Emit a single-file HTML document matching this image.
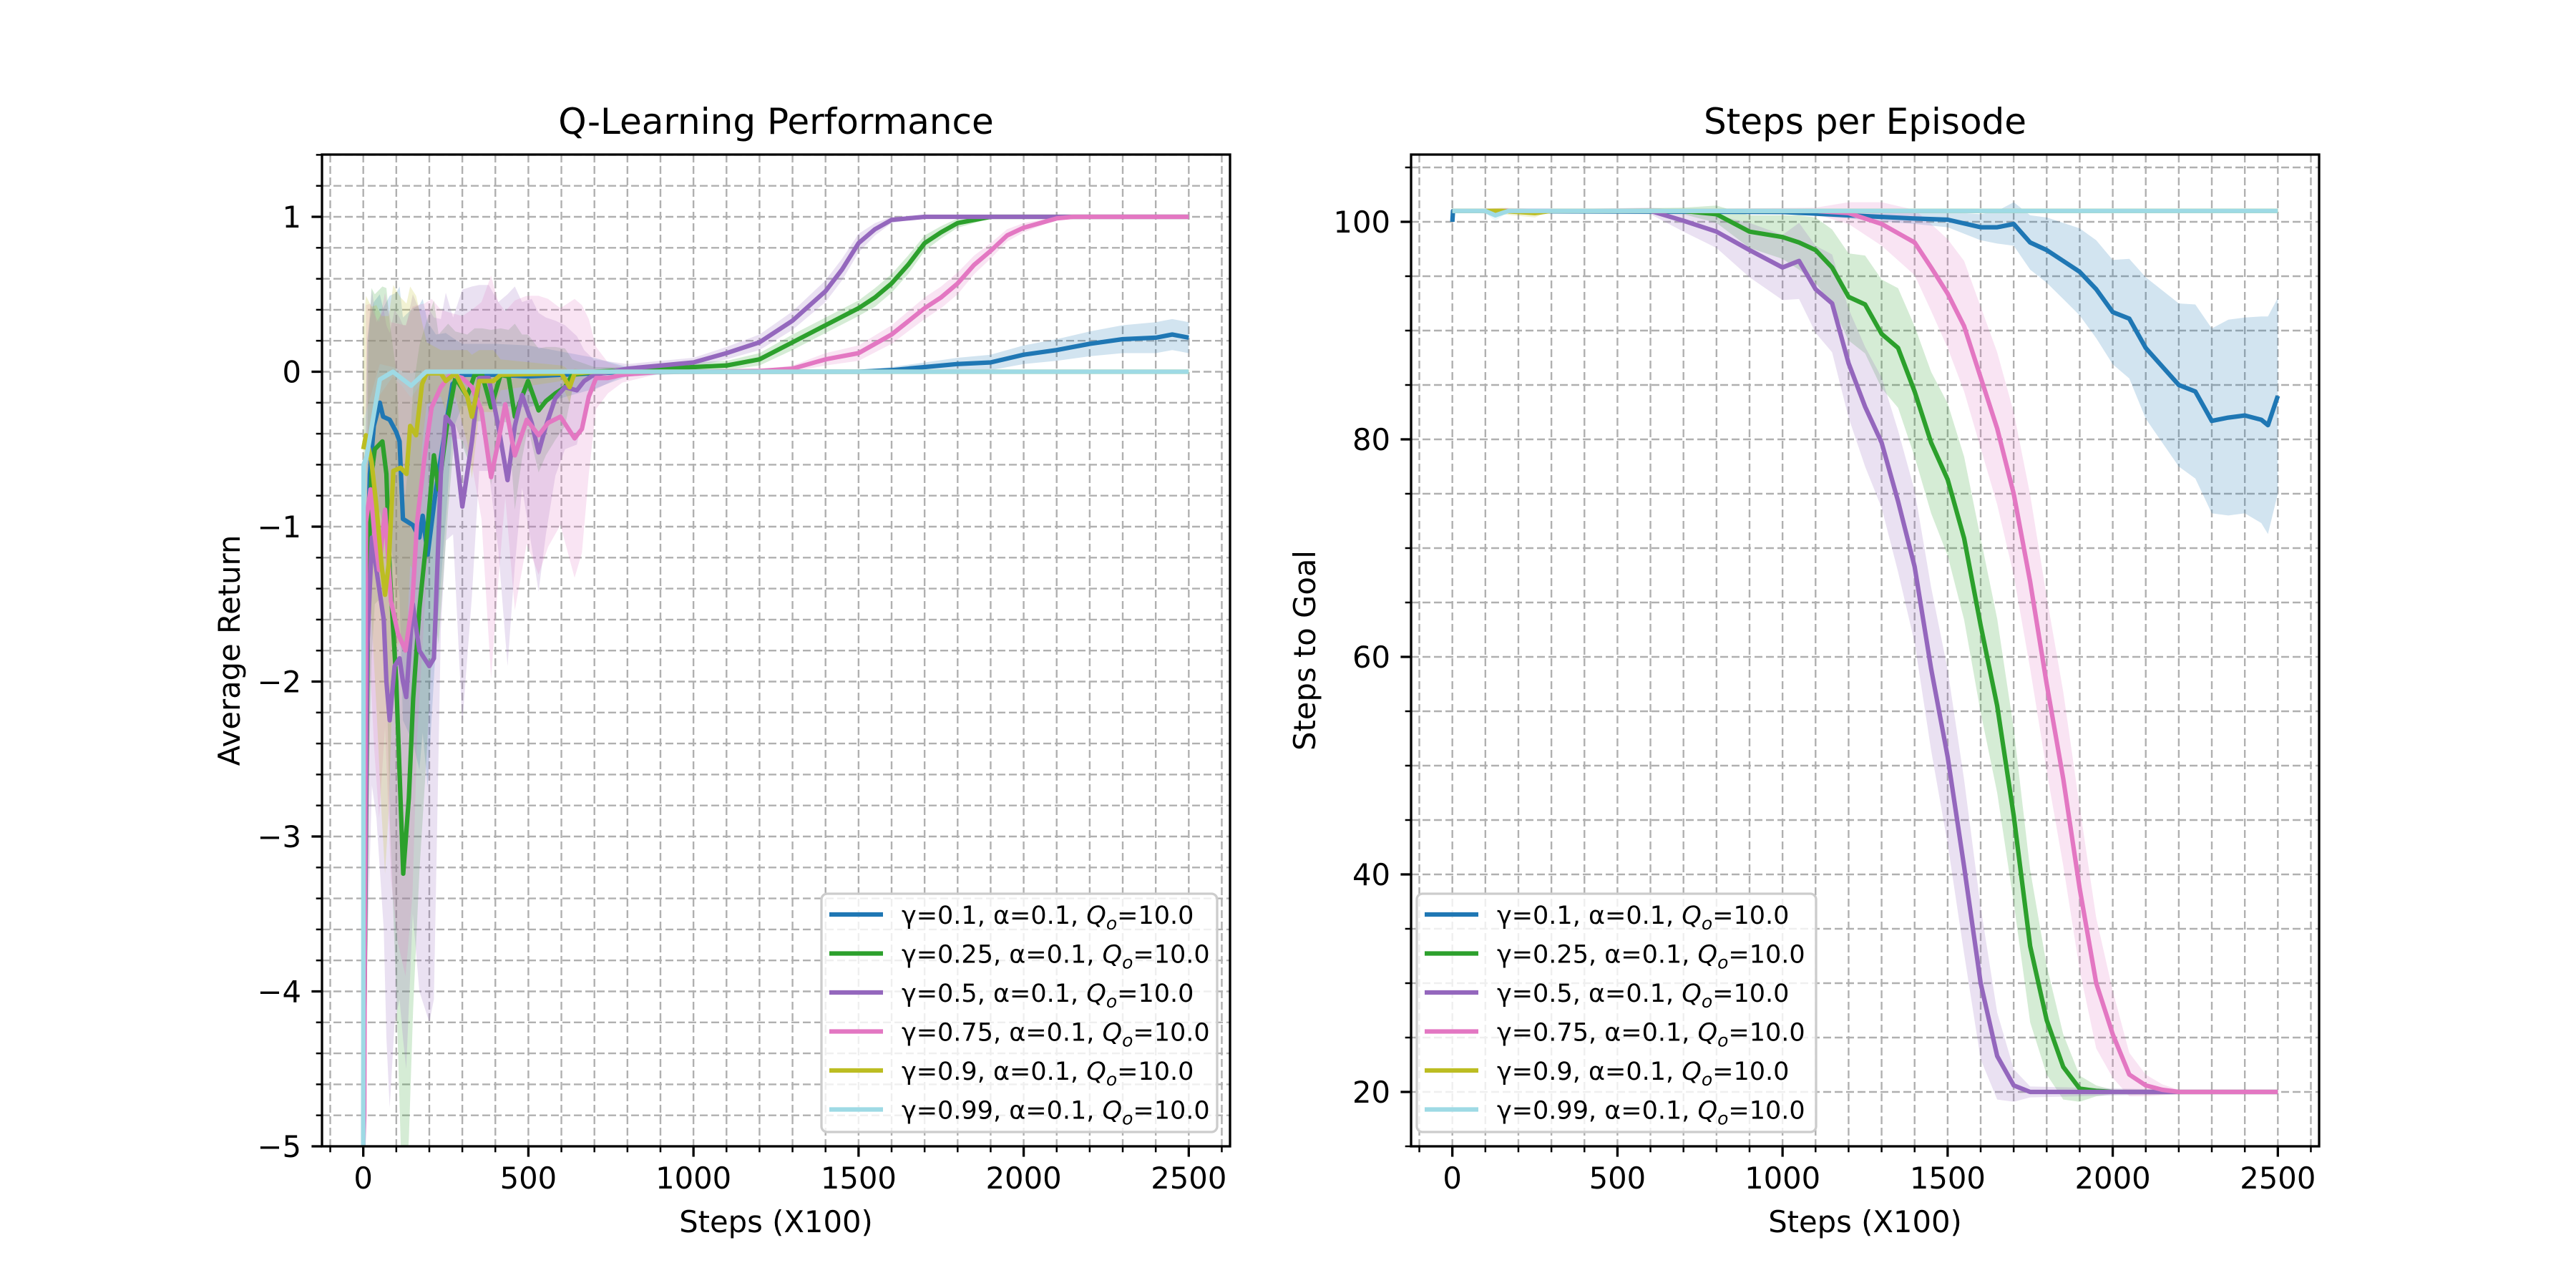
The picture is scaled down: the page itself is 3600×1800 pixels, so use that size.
<!DOCTYPE html>
<html><head><meta charset="utf-8"><style>
html,body{margin:0;padding:0;background:#fff;}
svg{display:block;font-family:"DejaVu Sans","Liberation Sans",sans-serif;}
</style></head><body>
<svg id="fig" xmlns="http://www.w3.org/2000/svg" width="3600" height="1800" viewBox="0 0 3600 1800">
<rect width="3600" height="1800" fill="#fff"/>
<defs>
<clipPath id="clipL"><rect x="450" y="216" width="1269" height="1386"/></clipPath>
<clipPath id="clipR"><rect x="1972" y="216" width="1269" height="1386"/></clipPath>
</defs>
<g id="left"></g>
<g id="right"></g>
</svg>
<script>
// ---------- Left chart data ----------
const bX=[0,5,12,20,32,50,60,80,100,110,120,150,170,180,195,220,250,270,300,400,500,600,700,800,1000,1200,1400,1500,1600,1700,1800,1900,2000,2100,2200,2300,2400,2450,2500];
const bY=[-5,-2,-1.3,-0.66,-0.35,-0.2,-0.29,-0.31,-0.39,-0.45,-0.95,-0.99,-1.07,-0.93,-1.18,-0.76,-0.35,-0.08,-0.02,-0.02,-0.03,-0.02,-0.01,0,0,0,0,0,0.01,0.03,0.05,0.06,0.11,0.14,0.18,0.21,0.22,0.24,0.22];
const bS=[0,1.5,1.5,1.0,0.8,0.7,0.7,0.8,0.9,1.0,1.3,1.4,1.5,1.4,1.5,1.0,0.6,0.3,0.2,0.2,0.2,0.15,0.1,0.03,0.01,0.01,0.01,0.01,0.02,0.03,0.04,0.05,0.06,0.07,0.08,0.09,0.1,0.1,0.1];
const gX=[0,15,25,35,58,70,80,100,121,138,151,170,192,214,228,257,279,315,337,360,387,416,440,459,481,499,531,553,582,611,633,700,800,900,1000,1100,1200,1300,1400,1500,1550,1600,1650,1700,1750,1800,1900,2500];
const gY=[-5,-1.34,-0.66,-0.5,-0.45,-0.66,-1.28,-2.0,-3.24,-2.75,-2.11,-1.53,-1.07,-0.54,-0.76,-0.29,-0.04,-0.16,-0.02,-0.02,-0.23,-0.02,-0.03,-0.29,-0.16,-0.06,-0.25,-0.19,-0.14,-0.1,-0.02,0,0.01,0.02,0.03,0.04,0.08,0.19,0.30,0.41,0.48,0.57,0.69,0.83,0.9,0.96,1.0,1.0];
const gS=[0,1.5,1.2,1.0,1.0,1.2,1.6,2.0,2.3,2.2,2.0,1.7,1.4,1.0,1.0,0.6,0.3,0.4,0.3,0.3,0.5,0.3,0.3,0.6,0.4,0.3,0.4,0.35,0.3,0.25,0.1,0.03,0.02,0.02,0.03,0.03,0.04,0.05,0.05,0.05,0.06,0.06,0.06,0.05,0.04,0.03,0.01,0];
const pX=[0,12,26,40,62,70,80,95,110,120,130,150,170,200,214,235,250,272,300,329,351,380,409,437,459,481,510,531,553,582,611,647,669,698,800,1000,1100,1200,1300,1400,1450,1500,1550,1600,1700,2500];
const pY=[-5,-1.8,-1.07,-1.28,-1.6,-2.0,-2.25,-1.9,-1.85,-2.0,-2.1,-1.5,-1.8,-1.9,-1.85,-0.66,-0.29,-0.35,-0.87,-0.45,-0.04,-0.04,-0.35,-0.7,-0.35,-0.15,-0.33,-0.52,-0.35,-0.17,-0.1,-0.12,-0.06,-0.02,0.02,0.06,0.12,0.19,0.33,0.52,0.66,0.83,0.92,0.98,1.0,1.0];
const pS=[0,2.0,1.6,1.6,2.0,2.3,2.5,2.3,2.2,2.3,2.4,2.0,2.2,2.3,2.2,1.0,0.8,0.7,1.4,1.0,0.6,0.6,0.8,1.2,0.9,0.6,0.8,0.9,0.7,0.5,0.4,0.35,0.2,0.1,0.03,0.03,0.04,0.05,0.06,0.07,0.07,0.06,0.04,0.02,0.005,0];
const kX=[0,3,8,22,33,48,66,84,105,128,149,163,185,207,235,264,300,329,358,387,409,430,459,495,531,560,597,640,662,683,705,741,784,900,1000,1200,1300,1400,1500,1600,1700,1750,1800,1850,1900,1950,2000,2100,2150,2500];
const kY=[-5,-4.8,-0.97,-0.76,-1.03,-1.28,-0.89,-1.48,-1.69,-1.8,-1.48,-0.97,-0.56,-0.23,-0.1,-0.02,-0.04,-0.1,-0.25,-0.68,-0.45,-0.21,-0.54,-0.31,-0.41,-0.33,-0.29,-0.43,-0.37,-0.16,-0.04,-0.04,-0.02,0,0,0.005,0.02,0.08,0.12,0.24,0.41,0.48,0.57,0.69,0.78,0.88,0.93,0.99,1.0,1.0];
const kS=[0,0,1.4,1.2,1.4,1.6,1.4,1.8,2.0,2.1,1.9,1.4,1.0,0.7,0.5,0.4,0.4,0.5,0.7,1.3,0.9,0.6,1.0,0.8,0.9,0.8,0.7,0.9,0.8,0.5,0.2,0.1,0.05,0.01,0.01,0.01,0.02,0.04,0.05,0.06,0.07,0.07,0.07,0.06,0.05,0.04,0.03,0.01,0.005,0];
const yX=[0,8,25,40,55,66,77,91,113,131,142,160,178,192,235,250,279,315,329,351,394,416,600,611,625,640,700,2500];
const yY=[-0.5,-0.41,-0.58,-0.87,-1.24,-1.44,-1.24,-0.64,-0.62,-0.66,-0.35,-0.41,-0.08,-0.01,-0.01,-0.06,-0.01,-0.16,-0.29,-0.06,-0.06,-0.02,-0.01,-0.05,-0.1,-0.01,0,0];
const yS=[0.8,0.9,1.0,1.3,1.6,1.8,1.6,1.2,1.1,1.1,0.9,0.9,0.4,0.2,0.15,0.2,0.15,0.3,0.4,0.2,0.2,0.1,0.05,0.08,0.1,0.03,0,0];
const cX=[0,1,10,30,50,90,120,145,170,190,2500];
const cY=[-5,-0.6,-0.55,-0.3,-0.05,0,-0.05,-0.09,-0.04,0,0];
const cS=[0,0.3,0.3,0.2,0.1,0.03,0.05,0.08,0.05,0,0];
// ---------- Right chart data ----------
const rbX=[0,2,5,10,1000,1200,1400,1500,1600,1650,1700,1750,1800,1850,1900,1950,2000,2050,2100,2150,2200,2250,2300,2350,2400,2450,2470,2500];
const rbY=[100,101,101,101,100.9,100.6,100.3,100.2,99.5,99.5,99.8,98.1,97.4,96.4,95.4,93.8,91.7,91.1,88.4,86.7,85,84.4,81.7,82,82.2,81.8,81.3,84];
const rbS=[0,0,0,0,0.1,0.3,0.5,0.7,1.2,1.5,2,2.5,3,3.5,4,4.5,4.8,5.5,6.5,7,7.5,8,8.5,9,9,9.5,10,9];
const rgX=[0,700,800,900,1000,1050,1100,1150,1200,1250,1300,1350,1400,1450,1500,1550,1600,1650,1700,1750,1800,1850,1900,1950,2000,2500];
const rgY=[101,101,100.7,99.1,98.6,98.1,97.4,95.8,93.1,92.4,89.7,88.4,84.4,79.7,76.3,70.9,62.9,55.5,45.4,33.4,26.6,22.3,20.3,20.1,20,20];
const rgS=[0,0.3,0.8,1.5,2,2.5,3,3.5,4,4.5,5,5.5,6,6.5,7,7.5,8,8,8,7,5,3,1.2,0.5,0.2,0];
const rpX=[0,600,700,800,900,1000,1050,1100,1150,1200,1250,1300,1350,1400,1450,1500,1550,1600,1650,1700,1750,2500];
const rpY=[101,101,100.1,99.1,97.4,95.8,96.4,93.8,92.5,87.0,83.0,79.7,74.3,68.3,58.9,50.8,40.7,30,23.3,20.6,20,20];
const rpS=[0,0.3,1,1.5,2.5,3,3.5,4,4.5,5,5.5,6,6.5,7,7.5,8,8,7,4,1.5,0.5,0];
const rkX=[0,1100,1200,1300,1400,1450,1500,1550,1600,1650,1700,1750,1800,1850,1900,1950,2000,2050,2100,2150,2200,2500];
const rkY=[101,101,100.8,99.8,98.1,95.8,93.4,90.4,85.7,81.0,75.0,66.9,57.5,48.8,38.7,30.0,25.3,21.6,20.6,20.2,20,20];
const rkS=[0,0.3,1,2,3,4,5,6,6.5,7,7.5,8,8,8,7.5,6,4,2,1,0.5,0.2,0];
const ryX=[0,150,250,300,2500];
const ryY=[101,101,100.8,101,101];
const ryS=[0,0.3,0.4,0,0];
const rcX=[0,100,130,150,170,2500];
const rcY=[101,101,100.6,100.8,101,101];
const rcS=[0,0.2,0.5,0.3,0,0];
// ---------- ticks / labels ----------
const xTicks=[0,500,1000,1500,2000,2500];
const lyTicks=[-5,-4,-3,-2,-1,0,1];
const ryTicks=[20,40,60,80,100];
const labels=["γ=0.1, α=0.1, ","γ=0.25, α=0.1, ","γ=0.5, α=0.1, ","γ=0.75, α=0.1, ","γ=0.9, α=0.1, ","γ=0.99, α=0.1, "];
const colors=["#1f77b4","#2ca02c","#9467bd","#e377c2","#bcbd22","#17becf"];
colors[5]="#9edae5";

const NS="http://www.w3.org/2000/svg";
function mk(parent,tag,attrs){const e=document.createElementNS(NS,tag);for(const k in attrs)e.setAttribute(k,attrs[k]);parent.appendChild(e);return e;}

function buildAxes(g,ax){
  const {x0,y0,w,h,sx,sy,yMinor,yMajor,fmt,clip,title,ylabel,series,legendX}=ax;
  // grid
  const grid=mk(g,'g',{});
  
  
  for(let v=-100;v<=2600;v+=100){const px=sx(v);mk(grid,'line',{x1:px,x2:px,y1:y0,y2:y0+h,stroke:'#b0b0b0','stroke-width':2.4,'stroke-dasharray':'11,5'});}
  yMinor.forEach(v=>{const py=sy(v);if(py<y0||py>y0+h)return;mk(grid,'line',{x1:x0,x2:x0+w,y1:py,y2:py,stroke:'#b0b0b0','stroke-width':2.4,'stroke-dasharray':'11,5'});});
  // series
  const sg=mk(g,'g',{'clip-path':'url(#'+clip+')'});
  series.forEach((s,i)=>{
    const [X,Y,S]=s;
    let up='',lo='';
    for(let j=0;j<X.length;j++){up+=(j?'L':'M')+sx(X[j]).toFixed(1)+','+sy(Y[j]+S[j]).toFixed(1);}
    for(let j=X.length-1;j>=0;j--){lo+='L'+sx(X[j]).toFixed(1)+','+sy(Y[j]-S[j]).toFixed(1);}
    const band=mk(sg,'path',{d:up+lo+'Z',fill:colors[i],'fill-opacity':0.2,stroke:'none'});
    
    
  });
  series.forEach((s,i)=>{
    const [X,Y]=s;
    let d='';
    for(let j=0;j<X.length;j++){d+=(j?'L':'M')+sx(X[j]).toFixed(1)+','+sy(Y[j]).toFixed(1);}
    const ln=mk(sg,'path',{d:d,fill:'none',stroke:colors[i],'stroke-width':6.25,'stroke-linejoin':'round'});
    
    
  });
  // spines
  const sp=mk(g,'rect',{x:x0,y:y0,width:w,height:h,fill:'none',stroke:'#000','stroke-width':3.3});
  
  
  // ticks
  const tk=mk(g,'g',{stroke:'#000'});
  for(let v=-100;v<=2600;v+=100){const px=sx(v);const major=(v%500===0&&v>=0);mk(tk,'line',{x1:px,x2:px,y1:y0+h,y2:y0+h+(major?14.6:8.3),'stroke-width':major?3.3:2.5});}
  yMinor.forEach(v=>{const py=sy(v);if(py<y0-1||py>y0+h+1)return;const major=yMajor.some(m=>Math.abs(m-v)<1e-6);mk(tk,'line',{x1:x0,x2:x0-(major?14.6:8.3),y1:py,y2:py,'stroke-width':major?3.3:2.5});});
  xTicks.forEach(v=>{const t=mk(g,'text',{x:sx(v),y:y0+h+59,'font-size':41.7,'text-anchor':'middle',fill:'#000'});t.textContent=v;
    
    });
  yMajor.forEach(v=>{const t=mk(g,'text',{x:x0-29,y:sy(v)+15,'font-size':41.7,'text-anchor':'end',fill:'#000'});t.textContent=fmt(v);
    
    });
  const tt=mk(g,'text',{x:x0+w/2,y:187,'font-size':50,'text-anchor':'middle',fill:'#000'});tt.textContent=title;
  
  
  const xl=mk(g,'text',{x:x0+w/2,y:1722,'font-size':41.7,'text-anchor':'middle',fill:'#000'});xl.textContent='Steps (X100)';
  
  
  const yl=mk(g,'text',{x:0,y:0,'font-size':41.7,'text-anchor':'middle',fill:'#000',transform:'translate('+ax.ylx+','+(y0+h/2)+') rotate(-90)'});yl.textContent=ylabel;
  
  
  // legend
  const lg=mk(g,'g',{});
  
  
  mk(lg,'rect',{x:legendX,y:1249,width:ax.legW,height:333,rx:8,fill:'#fff','fill-opacity':0.8,stroke:'#cccccc','stroke-width':3.3});
  labels.forEach((lab,i)=>{
    const cy=1278+i*54.5;
    const e=mk(lg,'g',{});
    
    
    mk(e,'line',{x1:legendX+11,x2:legendX+86,y1:cy,y2:cy,stroke:colors[i],'stroke-width':6.25});
    const t=mk(e,'text',{x:legendX+112,y:cy+13,'font-size':35,fill:'#000'});
    t.appendChild(document.createTextNode(lab));
    const q=mk(t,'tspan',{'font-style':'italic'});q.textContent='Q';
    const o=mk(t,'tspan',{'font-style':'italic','font-size':25,dy:8});o.textContent='o';
    const r=mk(t,'tspan',{dy:-8});r.textContent='=10.0';
  });
}

const kx=1269/2750;
const minorL=[];for(let i=0;i<=32;i++)minorL.push(-5+i*0.2);
const minorR=[];for(let v=15;v<=105;v+=5)minorR.push(v);
const fmtL=v=>v<0?'\u2212'+(-v):''+v;
buildAxes(document.getElementById('left'),{
  x0:450,y0:216,w:1269,h:1386,
  sx:x=>450+(x+125)*kx, sy:y=>303+(1-y)*216.5,
  yMinor:minorL,yMajor:lyTicks,fmt:fmtL,clip:'clipL',title:'Q-Learning Performance',ylabel:'Average Return',ylx:335,
  series:[[bX,bY,bS],[gX,gY,gS],[pX,pY,pS],[kX,kY,kS],[yX,yY,yS],[cX,cY,cS]],legendX:1148,legW:553
});
buildAxes(document.getElementById('right'),{
  x0:1972,y0:216,w:1269,h:1386,
  sx:x=>1972+(x+125)*kx, sy:y=>310+(100-y)*15.2,
  yMinor:minorR,yMajor:ryTicks,fmt:v=>''+v,clip:'clipR',title:'Steps per Episode',ylabel:'Steps to Goal',ylx:1838,
  series:[[rbX,rbY,rbS],[rgX,rgY,rgS],[rpX,rpY,rpS],[rkX,rkY,rkS],[ryX,ryY,ryS],[rcX,rcY,rcS]],legendX:1980,legW:558
});
</script>
</body></html>
